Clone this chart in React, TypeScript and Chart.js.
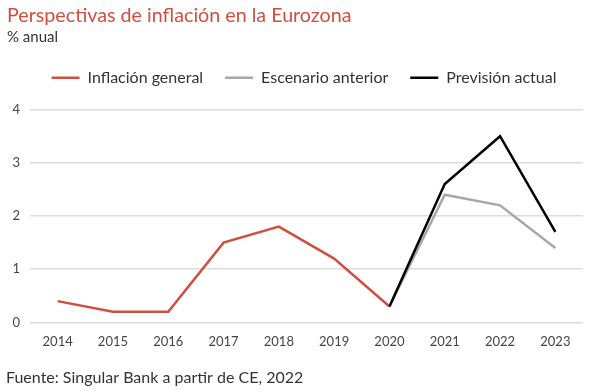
import React, { useEffect, useRef } from "react";
import { Chart, registerables } from "chart.js";

Chart.register(...registerables);

const years = ["2014", "2015", "2016", "2017", "2018", "2019", "2020", "2021", "2022", "2023"];
const inflacionGeneral = [0.4, 0.2, 0.2, 1.5, 1.8, 1.2, 0.3, null, null, null];
const escenarioAnterior = [null, null, null, null, null, null, 0.3, 2.4, 2.2, 1.4];
const prevision = [null, null, null, null, null, null, 0.3, 2.6, 3.5, 1.7];
const yTicks = [0, 1, 2, 3, 4];

const FONT = "Lato, 'Open Sans', sans-serif";

export default function App() {
  const ref = useRef<HTMLCanvasElement>(null);
  useEffect(() => {
    document.body.style.margin = "0";
    const footer = {
      id: "footer",
      afterDraw(chart: any) {
        const ctx = chart.ctx;
        ctx.save();
        ctx.font = `16px ${FONT}`;
        ctx.fillStyle = "#333333";
        ctx.textBaseline = "middle";
        ctx.textAlign = "left";
        ctx.fillText("Fuente: Singular Bank a partir de CE, 2022", 6, 378);
        ctx.restore();
      },
    };
    const legendTweak = {
      id: "legendTweak",
      beforeInit(chart: any) {
        const lg = chart.legend;
        const origFit = lg.fit;
        lg.fit = function () {
          origFit.bind(lg)();
          this.height += 14;
        };
        const origDraw = lg.draw;
        lg.draw = function (...args: any[]) {
          const ctx = chart.ctx;
          ctx.save();
          ctx.translate(9, 0);
          origDraw.apply(lg, args);
          ctx.restore();
        };
      },
    };
    const chart = new Chart(ref.current!, {
      type: "line",
      data: {
        labels: years,
        datasets: [
          { label: "Inflación general", data: inflacionGeneral, borderColor: "#d04f40", backgroundColor: "#d04f40", borderWidth: 2.5, pointRadius: 0, order: 3 },
          { label: "Escenario anterior", data: escenarioAnterior, borderColor: "#a8a8a8", backgroundColor: "#a8a8a8", borderWidth: 2.5, pointRadius: 0, order: 2 },
          { label: "Previsión actual", data: prevision, borderColor: "#000000", backgroundColor: "#000000", borderWidth: 2.5, pointRadius: 0, order: 1 },
        ],
      },
      options: {
        animation: false,
        responsive: false,
        layout: { padding: { left: 7, right: 17, top: 2, bottom: 37 } },
        plugins: {
          title: {
            display: true,
            text: "Perspectivas de inflación en la Eurozona",
            align: "start",
            color: "#d04f40",
            font: { family: FONT, size: 19.7, weight: "normal" },
            padding: { top: 2, bottom: 1 },
          },
          subtitle: {
            display: true,
            text: "% anual",
            align: "start",
            color: "#333333",
            font: { family: FONT, size: 15, weight: "normal" },
            padding: { top: 0, bottom: 1 },
          },
          legend: {
            display: true,
            position: "top",
            labels: {
              usePointStyle: true,
              pointStyle: "line",
              pointStyleWidth: 28,
              boxWidth: 28,
              boxHeight: 10,
              padding: 22,
              color: "#333333",
              font: { family: FONT, size: 16 },
              sort: (a: any, b: any) => a.datasetIndex - b.datasetIndex,
            },
          },
          tooltip: { enabled: false },
        },
        scales: {
          x: {
            offset: true,
            grid: { display: false },
            border: { display: false },
            ticks: { color: "#444444", font: { family: FONT, size: 13 }, padding: 4 },
          },
          y: {
            min: 0,
            max: 4,
            afterFit: (axis: any) => {
              axis.width = 23;
            },
            afterBuildTicks: (axis: any) => {
              axis.ticks = yTicks.map((v) => ({ value: v }));
            },
            grid: { color: "#dddddd", lineWidth: 1.5, drawTicks: false },
            border: { display: false },
            ticks: { color: "#444444", font: { family: FONT, size: 13 }, padding: 10 },
          },
        },
      },
      plugins: [footer, legendTweak],
    });
    return () => chart.destroy();
  }, []);
  return <canvas ref={ref} width={600} height={391} style={{ display: "block" }} />;
}
